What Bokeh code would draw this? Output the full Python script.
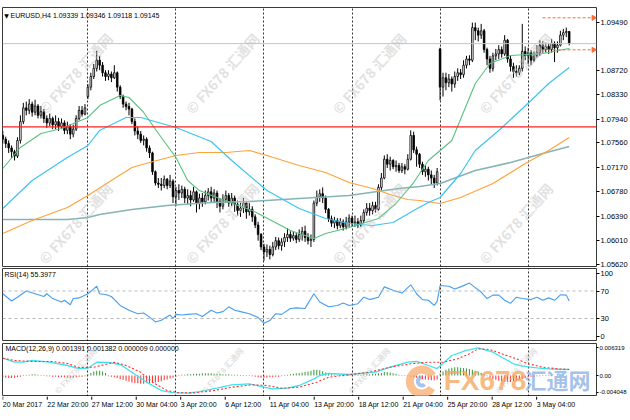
from bokeh.plotting import figure
from bokeh.layouts import column
from bokeh.models import (Range1d, FixedTicker, Span, Label, Grid,
                          NumeralTickFormatter, CustomJSTickFormatter)
from bokeh.core.properties import value
from bokeh.embed import file_html
from bokeh.resources import INLINE

# ------------------------------------------------------------------ data
# EURUSD H4 candles, bar 0 = 20 Mar 2017 04:00
opens = [1.0768, 1.0762, 1.0755, 1.0748, 1.0742, 1.0735, 1.0760, 1.0790, 1.0812, 1.0808,
         1.0818, 1.0805, 1.0815, 1.0800, 1.0806, 1.0795, 1.0788, 1.0795, 1.0785, 1.0790,
         1.0782, 1.0788, 1.0776, 1.0782, 1.0770, 1.0778, 1.0795, 1.0808, 1.0802, 1.0830,
         1.0845, 1.0862, 1.0875, 1.0888, 1.0880, 1.0868, 1.0862, 1.0866, 1.0860, 1.0868,
         1.0845, 1.0830, 1.0818, 1.0814, 1.0810, 1.0790, 1.0775, 1.0770, 1.0760, 1.0762,
         1.0748, 1.0740, 1.0710, 1.0692, 1.0690, 1.0688, 1.0698, 1.0688, 1.0695, 1.0670,
         1.0680, 1.0676, 1.0682, 1.0668, 1.0672, 1.0665, 1.0678, 1.0660, 1.0668, 1.0662,
         1.0672, 1.0678, 1.0668, 1.0676, 1.0662, 1.0655, 1.0666, 1.0672, 1.0660, 1.0668,
         1.0658, 1.0648, 1.0652, 1.0660, 1.0646, 1.0650, 1.0638, 1.0625, 1.0610, 1.0590,
         1.0582, 1.0586, 1.0578, 1.0590, 1.0600, 1.0592, 1.0598, 1.0605, 1.0610, 1.0604,
         1.0608, 1.0602, 1.0610, 1.0615, 1.0605, 1.0600, 1.0602, 1.0660, 1.0670, 1.0675,
         1.0668, 1.0650, 1.0635, 1.0628, 1.0632, 1.0624, 1.0630, 1.0622, 1.0630, 1.0636,
         1.0628, 1.0630, 1.0625, 1.0632, 1.0645, 1.0652, 1.0648, 1.0656, 1.0650, 1.0685,
         1.0700, 1.0730, 1.0722, 1.0728, 1.0718, 1.0720, 1.0712, 1.0718, 1.0714, 1.0730,
         1.0768, 1.0745, 1.0738, 1.0722, 1.0710, 1.0714, 1.0705, 1.0700, 1.0692, 1.0906,
         1.0845, 1.0860, 1.0852, 1.0858, 1.0850, 1.0862, 1.0868, 1.0865, 1.0880, 1.0890,
         1.0888, 1.0940, 1.0935, 1.0928, 1.0935, 1.0905, 1.0890, 1.0875, 1.0895, 1.0898,
         1.0905, 1.0898, 1.0920, 1.0890, 1.0878, 1.0870, 1.0868, 1.0875, 1.0902, 1.0895,
         1.0900, 1.0888, 1.0895, 1.0900, 1.0912, 1.0905, 1.0910, 1.0905, 1.0915, 1.0908,
         1.0912, 1.0928, 1.0932, 1.09339]
highs = [1.0775, 1.0766, 1.0760, 1.0752, 1.0745, 1.0765, 1.0800, 1.0820, 1.0822, 1.0826,
         1.0822, 1.0825, 1.0818, 1.0815, 1.0810, 1.0800, 1.0803, 1.0798, 1.0800, 1.0796,
         1.0795, 1.0792, 1.0790, 1.0786, 1.0785, 1.0800, 1.0815, 1.0815, 1.0818, 1.0850,
         1.0868, 1.0882, 1.0903, 1.0895, 1.0885, 1.0872, 1.0872, 1.0870, 1.0880, 1.0870,
         1.0848, 1.0833, 1.0822, 1.0820, 1.0812, 1.0795, 1.0782, 1.0775, 1.0768, 1.0765,
         1.0752, 1.0742, 1.0712, 1.0700, 1.0700, 1.0704, 1.0700, 1.0705, 1.0698, 1.0686,
         1.0690, 1.0688, 1.0686, 1.0682, 1.0680, 1.0686, 1.0680, 1.0675, 1.0676, 1.0680,
         1.0684, 1.0686, 1.0682, 1.0680, 1.0668, 1.0674, 1.0680, 1.0676, 1.0676, 1.0672,
         1.0664, 1.0660, 1.0668, 1.0662, 1.0660, 1.0655, 1.0642, 1.0630, 1.0612, 1.0595,
         1.0594, 1.0592, 1.0598, 1.0606, 1.0605, 1.0604, 1.0612, 1.0620, 1.0615, 1.0614,
         1.0612, 1.0618, 1.0622, 1.0624, 1.0612, 1.0610, 1.0664, 1.0680, 1.0682, 1.0685,
         1.0672, 1.0652, 1.0640, 1.0638, 1.0636, 1.0636, 1.0634, 1.0638, 1.0642, 1.0640,
         1.0640, 1.0636, 1.0640, 1.0650, 1.0660, 1.0660, 1.0662, 1.0662, 1.0690, 1.0708,
         1.0736, 1.0738, 1.0734, 1.0730, 1.0728, 1.0724, 1.0724, 1.0722, 1.0738, 1.0776,
         1.0774, 1.0750, 1.0740, 1.0726, 1.0720, 1.0718, 1.0712, 1.0705, 1.0716, 1.0908,
         1.0868, 1.0868, 1.0866, 1.0862, 1.0870, 1.0875, 1.0874, 1.0888, 1.0895, 1.0896,
         1.0948, 1.0948, 1.0940, 1.0946, 1.0938, 1.0908, 1.0895, 1.0900, 1.0906, 1.0912,
         1.0910, 1.0928, 1.0922, 1.0895, 1.0884, 1.0880, 1.0880, 1.0946, 1.0910, 1.0908,
         1.0904, 1.0902, 1.0912, 1.0920, 1.0918, 1.0916, 1.0915, 1.0922, 1.0918, 1.0918,
         1.0935, 1.0938, 1.0940, 1.09346]
lows = [1.0755, 1.0748, 1.0740, 1.0732, 1.0728, 1.0732, 1.0755, 1.0786, 1.0800, 1.0802,
        1.0798, 1.0800, 1.0795, 1.0795, 1.0788, 1.0780, 1.0783, 1.0778, 1.0778, 1.0775,
        1.0778, 1.0770, 1.0770, 1.0762, 1.0765, 1.0775, 1.0792, 1.0798, 1.0800, 1.0826,
        1.0840, 1.0858, 1.0870, 1.0872, 1.0862, 1.0855, 1.0856, 1.0853, 1.0858, 1.0838,
        1.0826, 1.0812, 1.0808, 1.0800, 1.0786, 1.0768, 1.0762, 1.0756, 1.0752, 1.0742,
        1.0732, 1.0705, 1.0688, 1.0684, 1.0680, 1.0684, 1.0682, 1.0684, 1.0660, 1.0655,
        1.0665, 1.0668, 1.0660, 1.0658, 1.0655, 1.0662, 1.0645, 1.0650, 1.0654, 1.0658,
        1.0664, 1.0660, 1.0660, 1.0652, 1.0645, 1.0650, 1.0660, 1.0654, 1.0655, 1.0646,
        1.0640, 1.0638, 1.0644, 1.0635, 1.0640, 1.0630, 1.0620, 1.0600, 1.0585, 1.0568,
        1.0574, 1.0570, 1.0575, 1.0585, 1.0586, 1.0584, 1.0590, 1.0598, 1.0598, 1.0600,
        1.0596, 1.0598, 1.0600, 1.0598, 1.0594, 1.0590, 1.0598, 1.0655, 1.0662, 1.0660,
        1.0644, 1.0630, 1.0622, 1.0620, 1.0618, 1.0620, 1.0616, 1.0618, 1.0622, 1.0622,
        1.0622, 1.0620, 1.0622, 1.0628, 1.0640, 1.0640, 1.0642, 1.0645, 1.0648, 1.0680,
        1.0698, 1.0716, 1.0712, 1.0714, 1.0710, 1.0708, 1.0708, 1.0706, 1.0712, 1.0728,
        1.0740, 1.0718, 1.0716, 1.0705, 1.0702, 1.0696, 1.0690, 1.0684, 1.0688, 1.0824,
        1.0830, 1.0840, 1.0845, 1.0838, 1.0844, 1.0855, 1.0858, 1.0860, 1.0875, 1.0880,
        1.0885, 1.0920, 1.0918, 1.0922, 1.0900, 1.0880, 1.0868, 1.0870, 1.0888, 1.0890,
        1.0892, 1.0895, 1.0884, 1.0870, 1.0860, 1.0862, 1.0864, 1.0870, 1.0888, 1.0882,
        1.0880, 1.0885, 1.0892, 1.0895, 1.0898, 1.0900, 1.0898, 1.0900, 1.0885, 1.0900,
        1.0910, 1.0920, 1.0925, 1.09118]
closes = [1.0762, 1.0755, 1.0748, 1.0742, 1.0735, 1.0760, 1.0790, 1.0812, 1.0808, 1.0818,
          1.0805, 1.0815, 1.0800, 1.0806, 1.0795, 1.0788, 1.0795, 1.0785, 1.0790, 1.0782,
          1.0788, 1.0776, 1.0782, 1.0770, 1.0778, 1.0795, 1.0808, 1.0802, 1.0812, 1.0845,
          1.0862, 1.0875, 1.0888, 1.0880, 1.0868, 1.0862, 1.0866, 1.0860, 1.0868, 1.0845,
          1.0830, 1.0818, 1.0814, 1.0810, 1.0790, 1.0775, 1.0770, 1.0760, 1.0762, 1.0748,
          1.0740, 1.0710, 1.0692, 1.0690, 1.0688, 1.0698, 1.0688, 1.0695, 1.0670, 1.0680,
          1.0676, 1.0682, 1.0668, 1.0672, 1.0665, 1.0678, 1.0660, 1.0668, 1.0662, 1.0672,
          1.0678, 1.0668, 1.0676, 1.0662, 1.0655, 1.0666, 1.0672, 1.0660, 1.0668, 1.0658,
          1.0648, 1.0652, 1.0660, 1.0646, 1.0650, 1.0638, 1.0625, 1.0610, 1.0590, 1.0582,
          1.0586, 1.0578, 1.0590, 1.0600, 1.0592, 1.0598, 1.0605, 1.0610, 1.0604, 1.0608,
          1.0602, 1.0610, 1.0615, 1.0605, 1.0600, 1.0602, 1.0660, 1.0670, 1.0675, 1.0668,
          1.0650, 1.0635, 1.0628, 1.0632, 1.0624, 1.0630, 1.0622, 1.0630, 1.0636, 1.0628,
          1.0630, 1.0625, 1.0632, 1.0645, 1.0652, 1.0648, 1.0656, 1.0650, 1.0685, 1.0700,
          1.0730, 1.0722, 1.0728, 1.0718, 1.0720, 1.0712, 1.0718, 1.0714, 1.0730, 1.0768,
          1.0745, 1.0738, 1.0722, 1.0710, 1.0714, 1.0705, 1.0700, 1.0692, 1.0710, 1.0845,
          1.0860, 1.0852, 1.0858, 1.0850, 1.0862, 1.0868, 1.0865, 1.0880, 1.0890, 1.0888,
          1.0940, 1.0935, 1.0928, 1.0935, 1.0905, 1.0890, 1.0875, 1.0895, 1.0898, 1.0905,
          1.0898, 1.0920, 1.0890, 1.0878, 1.0870, 1.0868, 1.0875, 1.0902, 1.0895, 1.0900,
          1.0888, 1.0895, 1.0900, 1.0912, 1.0905, 1.0910, 1.0905, 1.0915, 1.0908, 1.0912,
          1.0928, 1.0932, 1.09339, 1.09145]

# moving averages (bar index, price)
ma_green_x = [0, 6, 13, 20, 29, 33, 40, 43, 48, 54, 59, 63, 67, 72, 85, 98, 106, 110, 118, 128, 134, 140, 145, 153, 161, 166, 173, 184, 193]
ma_green_y = [1.07152, 1.07487, 1.07710, 1.07790, 1.07966, 1.08157, 1.08317, 1.08285, 1.08046, 1.07647, 1.07327, 1.06960, 1.06800, 1.06705, 1.06481, 1.06162, 1.06034, 1.06114, 1.06210, 1.06354, 1.06593, 1.06928, 1.07279, 1.07599, 1.08508, 1.08828, 1.08955, 1.08987, 1.09067]
ma_blue_x = [0, 10, 22, 29, 33, 42, 47, 59, 71, 78, 90, 101, 110, 118, 126, 133, 140, 145, 149, 156, 161, 169, 180, 186, 193]
ma_blue_y = [1.06514, 1.06961, 1.07328, 1.07519, 1.07759, 1.07966, 1.07966, 1.07806, 1.07583, 1.07280, 1.06801, 1.06514, 1.06354, 1.06274, 1.06242, 1.06290, 1.06482, 1.06609, 1.06689, 1.07072, 1.07439, 1.07758, 1.08237, 1.08508, 1.08764]
ma_orange_x = [0, 10, 22, 29, 37, 44, 50, 59, 67, 76, 84, 90, 101, 110, 118, 126, 133, 138, 142, 149, 156, 167, 178, 186, 193]
ma_orange_y = [1.06115, 1.06322, 1.06529, 1.06720, 1.06960, 1.07168, 1.07248, 1.07359, 1.07407, 1.07407, 1.07439, 1.07359, 1.07200, 1.07088, 1.06928, 1.06833, 1.06721, 1.06657, 1.06641, 1.06593, 1.06689, 1.06912, 1.07231, 1.07439, 1.07646]
ma_teal_x = [0, 22, 29, 33, 44, 56, 71, 84, 101, 118, 135, 142, 149, 161, 173, 184, 193]
ma_teal_y = [1.06338, 1.06338, 1.06370, 1.06418, 1.06497, 1.06561, 1.06609, 1.06625, 1.06673, 1.06721, 1.06833, 1.06864, 1.06912, 1.07120, 1.07248, 1.07391, 1.07503]

# RSI(14)
rsi_x = [0, 3, 5, 8, 11, 14, 15, 17, 20, 21, 23, 24, 26, 29, 31, 32, 33, 35, 37, 40, 43, 46, 48, 50, 52, 54, 57, 58, 59, 61, 63, 66, 68, 71, 73, 75, 77, 79, 81, 84, 87, 89, 91, 93, 95, 98, 100, 103, 104, 106, 108, 111, 114, 116, 118, 121, 123, 125, 128, 130, 133, 136, 137, 139, 141, 143, 145, 147, 148, 149, 152, 154, 156, 159, 161, 163, 165, 167, 169, 171, 173, 175, 177, 180, 182, 184, 186, 188, 190, 192, 193]
rsi_y = [66, 55.5, 61, 70, 66, 62, 66, 59, 54, 56.5, 50, 59, 60, 66, 73, 77, 66, 65, 62, 49, 42, 37, 38, 32, 25, 27.5, 35, 30, 36, 35, 36, 37, 33, 42, 38, 40, 47, 42, 40, 37, 31.5, 23, 27, 37, 36, 44.5, 45.5, 44.5, 52, 66, 54, 47, 49, 52.5, 49, 51.5, 61, 57.5, 61, 76, 71, 67, 71, 79, 66, 57.5, 56.5, 49, 55, 78, 77, 73, 76, 81.5, 75, 68.5, 59, 64, 64, 56.5, 52, 61, 59, 57.5, 61, 56.5, 60, 56.5, 64.5, 64, 55.3977]
rsi_levels = [70, 30]

# MACD(12,26,9)
macd_x = [0, 4, 7, 10, 16, 22, 26, 29, 32, 36, 40, 44, 49, 54, 58, 63, 67, 73, 78, 84, 89, 92, 97, 101, 106, 108, 111, 118, 127, 132, 138, 141, 145, 148, 150, 153, 158, 162, 167, 170, 174, 177, 182, 186, 191, 193]
macd_y = [0.00396, 0.00305, 0.00305, 0.00344, 0.00305, 0.00229, 0.00160, 0.00167, 0.00305, 0.00298, 0.00252, 0.00076, -0.00153, -0.00344, -0.00390, -0.00404, -0.00370, -0.00291, -0.00213, -0.00190, -0.00268, -0.00305, -0.00291, -0.00229, -0.00076, 0.0, 0.00046, 0.00023, 0.00076, 0.00190, 0.00305, 0.00321, 0.00229, 0.00160, 0.00275, 0.00458, 0.00573, 0.00632, 0.00534, 0.00419, 0.00268, 0.00213, 0.00176, 0.00153, 0.00137, 0.001391]
signal_x = [0, 4, 10, 17, 22, 26, 31, 36, 38, 42, 47, 51, 56, 60, 65, 72, 78, 85, 90, 95, 101, 107, 111, 118, 125, 132, 139, 145, 150, 155, 159, 162, 166, 170, 175, 179, 184, 189, 193]
signal_y = [0.00396, 0.00344, 0.00321, 0.00321, 0.00275, 0.00183, 0.00190, 0.00268, 0.00305, 0.00229, 0.00076, -0.00153, -0.00344, -0.00395, -0.00398, -0.00344, -0.00268, -0.00213, -0.00229, -0.00291, -0.00268, -0.00153, -0.00039, 0.00016, 0.00076, 0.00190, 0.00268, 0.00305, 0.00305, 0.00382, 0.00497, 0.00611, 0.00595, 0.00497, 0.00382, 0.00268, 0.00190, 0.00153, 0.001382]
macd_hist = [-0.0004, -0.0005, -0.0006, -0.0006, -0.0005, -0.0004, -0.0003, -0.0001,
             0.0001, 0.0002, 0.0003, 0.0003, 0.0002, 0.0001,
             -0.0001, -0.0002, -0.0002, -0.0003, -0.0003, -0.0004, -0.0004, -0.0004, -0.0005, -0.0005, -0.0005, -0.0004, -0.0003, -0.0003, -0.0002,
             0.0003, 0.0006, 0.0009, 0.0011, 0.0011, 0.0009, 0.0006,
             -0.0002, -0.0003, -0.0004, -0.0006, -0.0008, -0.0010, -0.0012, -0.0014, -0.0016, -0.0017, -0.0018, -0.0019, -0.0019, -0.0018, -0.0018, -0.0017, -0.0016, -0.0015, -0.0013, -0.0011, -0.0009, -0.0007, -0.0005, -0.0003,
             0.0001, 0.0002, 0.0002, 0.0003, 0.0003, 0.0004, 0.0004, 0.0004, 0.0005, 0.0005, 0.0005, 0.0005, 0.0004, 0.0004, 0.0004, 0.0003, 0.0003, 0.0003, 0.0002, 0.0002, 0.0002, 0.0001, 0.0001, 0.0001,
             -0.0001, -0.0002, -0.0003, -0.0004, -0.0005, -0.0005, -0.0005, -0.0004, -0.0004, -0.0003, -0.0003, -0.0002, -0.0001,
             0.0002, 0.0003, 0.0004, 0.0005, 0.0006, 0.0007, 0.0008, 0.0009, 0.0011, 0.0013, 0.0013, 0.0012, 0.0010,
             0.0007, 0.0005, 0.0003, 0.0002, 0.0001, 0.0001, -0.0001, -0.0001, 0.0001, 0.0001, 0.0002, 0.0002, 0.0002, 0.0003, 0.0003, 0.0003, 0.0004, 0.0004,
             0.0005, 0.0006, 0.0008, 0.0008, 0.0007, 0.0005, 0.0004, 0.0002, 0.0001,
             -0.0001, -0.0002, -0.0003, -0.0004, -0.0005, -0.0006, -0.0008, -0.0009, -0.0010, -0.0011, -0.0011, -0.0009,
             0.0004, 0.0009, 0.0013, 0.0016, 0.0018, 0.0019, 0.0019, 0.0018, 0.0017, 0.0016, 0.0015, 0.0013, 0.0011, 0.0009, 0.0006, 0.0003,
             -0.0002, -0.0005, -0.0008, -0.0010, -0.0012, -0.0014, -0.0015, -0.0015, -0.0015, -0.0014, -0.0012, -0.0010, -0.0008, -0.0006,
             -0.0004, -0.0003, -0.0003, -0.0002, -0.0002, -0.0001, -0.0001, -0.0001, -0.0001, 0.0000, -0.0001, 0.0000, 0.0001, 0.0001, 0.000009]

# axes / reference levels
price_ticks = [1.05620, 1.06010, 1.06390, 1.06780, 1.07170, 1.07560, 1.07940, 1.08330, 1.08720, 1.09490]
bid_price = 1.09145
red_level = 1.07815
target_levels = [1.09557, 1.09046]
rsi_tick_labels = ["0", "30", "70", "100"]
macd_tick_labels = ["-0.004048", "0.00", "0.006319"]
week_starts = [29, 59, 89, 119, 149, 179]
xtick_idx = [0, 16, 32, 48, 64, 80, 96, 112, 128, 144, 160, 176, 192]
xtick_labels = ["20 Mar 2017", "22 Mar 20:00", "27 Mar 12:00", "30 Mar 04:00", "3 Apr 20:00",
                "6 Apr 12:00", "11 Apr 04:00", "13 Apr 20:00", "18 Apr 12:00", "21 Apr 04:00",
                "25 Apr 20:00", "28 Apr 12:00", "3 May 04:00"]
header_text = "EURUSD,H4  1.09339 1.09346 1.09118 1.09145"
rsi_text = "RSI(14) 55.3977"
macd_text = "MACD(12,26,9) 0.001391 0.001382 0.000009 0.000000"

# ------------------------------------------------------------------ layout helpers
FONT = "Liberation Sans"
CJK = "Noto Sans CJK SC"
X0, X1 = -0.1, 202.3
FX0, FW = 2, 595          # frame left (page px) and width
PXU = FW / (X1 - X0)

MAIN_TOP, MAIN_BOT, MAIN_Y0, MAIN_H = 1.0972142, 1.0558778, 7, 259
RSI_TOP, RSI_BOT, RSI_Y0, RSI_H = 102.73, -3.45, 268, 73
MACD_TOP, MACD_BOT, MACD_Y0, MACD_H = 0.007328, -0.004809, 343, 53


def bx(px):
    return (px - FX0) / PXU + X0


def y_main(py):
    return MAIN_TOP - (py - MAIN_Y0) * (MAIN_TOP - MAIN_BOT) / MAIN_H


def y_rsi(py):
    return RSI_TOP - (py - RSI_Y0) * (RSI_TOP - RSI_BOT) / RSI_H


def y_macd(py):
    return MACD_TOP - (py - MACD_Y0) * (MACD_TOP - MACD_BOT) / MACD_H


def label_formatter(ticks, labels):
    # map each (possibly nudged) tick position to its printed label
    return CustomJSTickFormatter(code="""
        const t = %s; const l = %s;
        let b = 0;
        for (let k = 1; k < t.length; k++) {
            if (Math.abs(t[k] - tick) < Math.abs(t[b] - tick)) b = k;
        }
        return l[b];""" % (list(ticks), list(labels)))


xr = Range1d(X0, X1)


def make_fig(height, yr, top, bottom):
    p = figure(width=630, height=height, x_range=xr, y_range=yr,
               output_backend="svg", toolbar_location=None,
               x_axis_location=None, y_axis_location="right",
               min_border_left=FX0, min_border_right=630 - FX0 - FW,
               min_border_top=top, min_border_bottom=bottom,
               background_fill_color="white", border_fill_color="white")
    p.outline_line_color = "#3a3a3a"
    p.outline_line_width = 1
    for g in p.grid:
        g.visible = False
    p.add_layout(Grid(dimension=0, ticker=FixedTicker(ticks=week_starts),
                      grid_line_color="#000000", grid_line_dash="2 2",
                      grid_line_width=1, grid_line_alpha=0.8))
    ax = p.yaxis[0]
    ax.axis_line_color = None
    ax.major_tick_in = 0
    ax.major_tick_out = 3
    ax.major_tick_line_color = "#000000"
    ax.minor_tick_line_color = None
    ax.major_label_standoff = 1
    ax.major_label_text_font = FONT
    ax.major_label_text_font_size = "7.5px"
    ax.major_label_text_color = "#000000"
    return p


def watermark(p, x, y, size="14px"):
    p.add_layout(Label(x=x, y=y, text="© FX678 汇通网", angle=0.84,
                       text_align="center", text_baseline="middle",
                       text_font=CJK, text_font_size=size, text_font_style="bold",
                       text_color="#c4c4c4", text_alpha=0.5))


n = min(len(opens), len(highs), len(lows), len(closes))
idx = list(range(n))
up_x = [i for i in idx if closes[i] >= opens[i]]
dn_x = [i for i in idx if closes[i] < opens[i]]

# ------------------------------------------------------------------ main pane
p1 = make_fig(MAIN_Y0 + MAIN_H + 2, Range1d(MAIN_BOT, MAIN_TOP), MAIN_Y0, 2)
p1.yaxis[0].ticker = FixedTicker(ticks=price_ticks)
p1.yaxis[0].formatter = NumeralTickFormatter(format="0.00000")

p1.add_layout(Span(location=bid_price, dimension="width", line_color="#c4c4c4", line_width=1))
p1.add_layout(Span(location=red_level, dimension="width", line_color="#ff2020", line_width=1.3))

p1.segment(x0=idx, y0=lows[:n], x1=idx, y1=highs[:n], line_color="#000000", line_width=1)
p1.vbar(x=up_x, width=0.55, top=[closes[i] for i in up_x], bottom=[opens[i] for i in up_x],
        fill_color="white", line_color="#000000", line_width=0.8)
p1.vbar(x=dn_x, width=0.55, top=[opens[i] for i in dn_x], bottom=[closes[i] for i in dn_x],
        fill_color="#000000", line_color="#000000", line_width=0.8)

p1.line(ma_teal_x, ma_teal_y, line_color="#86b4b4", line_width=1.6)
p1.line(ma_orange_x, ma_orange_y, line_color="#ffa33a", line_width=1.2)
p1.line(ma_blue_x, ma_blue_y, line_color="#3ec3f3", line_width=1.2)
p1.line(ma_green_x, ma_green_y, line_color="#58c07f", line_width=1.1)

for lvl in target_levels:
    p1.segment(x0=[bx(543)], y0=[lvl], x1=[bx(594)], y1=[lvl], line_color="#ff6a33",
               line_dash="3 2", line_width=1)
    p1.scatter(x=[bx(594)], y=[lvl], marker="triangle", size=5, angle=-1.5708,
               fill_color="#ff6a33", line_color="#ff6a33")

p1.add_layout(Label(x=X1, y=bid_price, x_offset=1, text="1.09145", text_font=FONT,
                    text_font_size="7.5px", text_color="white", text_baseline="middle",
                    background_fill_color="#000000"))
p1.add_layout(Label(x=X1, y=red_level, x_offset=1, text="1.07815", text_font=FONT,
                    text_font_size="7.5px", text_color="white", text_baseline="middle",
                    background_fill_color="#ff1a1a"))

p1.add_layout(Label(x=bx(6), y=y_main(14.5), text="▼", text_font="DejaVu Sans",
                    text_font_size="6px", text_align="center", text_baseline="middle",
                    text_color="#000000"))
p1.add_layout(Label(x=bx(10), y=y_main(14.5), text=header_text, text_font=FONT,
                    text_font_size="7px", text_baseline="middle", text_color="#000000"))

for cx in (75, 222, 369, 516):
    for cy in (73, 223):
        watermark(p1, bx(cx), y_main(cy))

# ------------------------------------------------------------------ RSI pane
p2 = make_fig(RSI_H, Range1d(RSI_BOT, RSI_TOP), 0, 0)
# MT4 keeps the extreme labels (0 / 100) inside the pane
rsi_tick_pos = [y_rsi(335.5), 30, 70, y_rsi(273)]
p2.yaxis[0].ticker = FixedTicker(ticks=rsi_tick_pos)
p2.yaxis[0].formatter = label_formatter(rsi_tick_pos, rsi_tick_labels)
for lv in rsi_levels:
    p2.add_layout(Span(location=lv, dimension="width", line_color="#b8b8b8",
                       line_dash="3 3", line_width=1))
p2.line(rsi_x, rsi_y, line_color="#459ff0", line_width=1.1)
p2.add_layout(Label(x=bx(4), y=y_rsi(273.5), text=rsi_text, text_font=FONT,
                    text_font_size="7px", text_baseline="middle", text_color="#000000"))

# ------------------------------------------------------------------ MACD pane
p3 = make_fig(2 + MACD_H, Range1d(MACD_BOT, MACD_TOP), 2, 0)
macd_tick_pos = [y_macd(391.5), 0.0, 0.006319]
ay = p3.yaxis[0]
ay.ticker = FixedTicker(ticks=macd_tick_pos)
ay.formatter = label_formatter(macd_tick_pos, macd_tick_labels)
ay.major_tick_out = 2
ay.major_label_standoff = 1
ay.major_label_text_font_size = "6px"

hist_x = list(range(len(macd_hist)))
hist_col = ["#3a9a3a" if v >= 0 else "#ff3030" for v in macd_hist]
p3.vbar(x=hist_x, width=0.35, top=macd_hist, bottom=0, fill_color=hist_col, line_color=None)
p3.line(macd_x, macd_y, line_color="#3ee2ef", line_width=1.3)
p3.line(signal_x, signal_y, line_color="#ff2e2e", line_width=1.1, line_dash="2 2")

p3.add_layout(Label(x=bx(5), y=y_macd(347.5), text=macd_text, text_font=FONT,
                    text_font_size="7px", text_baseline="middle", text_color="#000000"))

for cx in (75, 222, 369, 516):
    watermark(p3, bx(cx), y_macd(370), "8px")

# big logo
p3.annular_wedge(x=[bx(422)], y=[y_macd(381)], inner_radius=8, outer_radius=16,
                 inner_radius_units="screen", outer_radius_units="screen",
                 start_angle=0.5, end_angle=5.7, fill_color="#f7ab6c", fill_alpha=0.75,
                 line_color=None)
p3.annular_wedge(x=[bx(422)], y=[y_macd(381)], inner_radius=2, outer_radius=6,
                 inner_radius_units="screen", outer_radius_units="screen",
                 start_angle=1.5, end_angle=5.5, fill_color="#8ab2e6", fill_alpha=0.75,
                 line_color=None)
p3.add_layout(Label(x=bx(444), y=y_macd(380), text="FX678", text_font=FONT,
                    text_font_size="28px", text_font_style="bold", text_align="left",
                    text_baseline="middle", text_color="#f5a35a", text_alpha=0.75))
p3.add_layout(Label(x=bx(525), y=y_macd(378.5), text="汇通网", text_font=CJK,
                    text_font_size="22px", text_font_style="bold", text_align="left",
                    text_baseline="middle", text_color="#86aee4", text_alpha=0.75))

# ------------------------------------------------------------------ time axis strip
p4 = figure(width=630, height=20, x_range=Range1d(X0, X0 + (630 - FX0) / PXU),
            y_range=Range1d(0, 1), output_backend="svg", toolbar_location=None,
            x_axis_location=None, y_axis_location=None,
            min_border_left=FX0, min_border_right=0, min_border_top=0, min_border_bottom=0,
            background_fill_color="white", border_fill_color="white")
p4.outline_line_color = None
for g in p4.grid:
    g.visible = False
p4.segment(x0=xtick_idx, y0=[1.0] * len(xtick_idx), x1=xtick_idx, y1=[0.84] * len(xtick_idx),
           line_color="#000000", line_width=1)
p4.text(x=xtick_idx, y=[0.6] * len(xtick_idx), text=xtick_labels,
        text_font=value(FONT), text_font_size=value("7px"), text_align="left",
        text_baseline="middle", text_color="#000000")

layout = column(p1, p2, p3, p4, spacing=0)
open("out.html", "w").write(file_html(layout, INLINE))
